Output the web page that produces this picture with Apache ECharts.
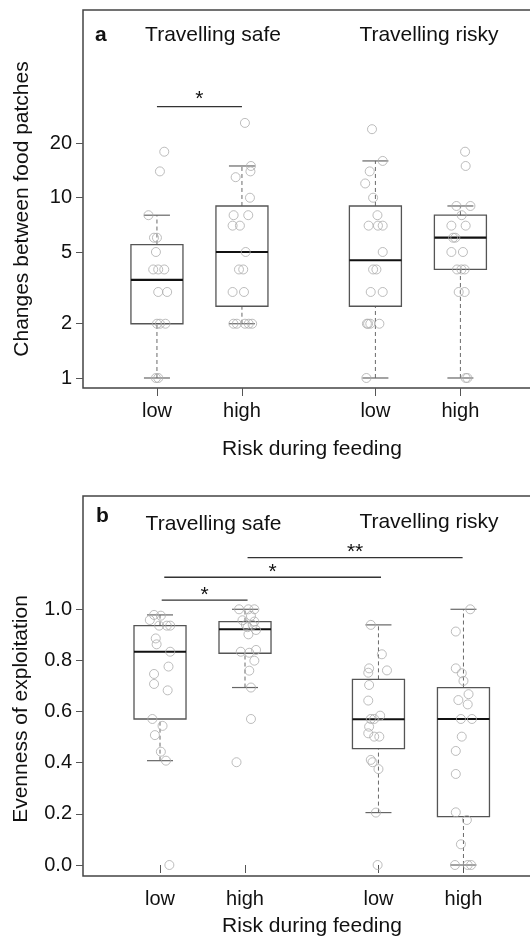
<!DOCTYPE html>
<html><head><meta charset="utf-8">
<script src="https://cdn.jsdelivr.net/npm/echarts@6/dist/echarts.min.js"></script>
<style>html,body{margin:0;padding:0;background:#fff}#c{width:530px;height:948px}</style>
</head><body><div id="c"></div>
<script>
// ---------- data ----------
const groupPos = [1, 2, 3.57, 4.57];
const groupLabels = ['low', 'high', 'low', 'high'];
const travelHeaders = ['Travelling safe', 'Travelling risky'];
const panelLetters = ['a', 'b'];
const xTitle = 'Risk during feeding';
const yTitleA = 'Changes between food patches';
const yTitleB = 'Evenness of exploitation';
const yTicksA = [1, 2, 5, 10, 20];
const yTicksB = [0, 0.2, 0.4, 0.6, 0.8, 1.0];

// box stats per group: [lower whisker, Q1, median, Q3, upper whisker]
const boxA = [
  [1, 2, 3.5, 5.5, 8],
  [2, 2.5, 5, 9, 15],
  [1, 2.5, 4.5, 9, 16],
  [1, 4, 6, 8, 9]
];
const boxB = [
  [0.408, 0.571, 0.834, 0.936, 0.978],
  [0.694, 0.828, 0.922, 0.952, 1.0],
  [0.205, 0.455, 0.570, 0.726, 0.939],
  [0.0, 0.189, 0.571, 0.694, 1.0]
];

// raw observations: [jitter, value]
const ptsA0 = [[0.086,18],[0.035,14],[-0.10,8],[-0.035,6],[0,6],[-0.012,5],[-0.044,4],[0.015,4],[0.086,4],[0.015,3],[0.12,3],[0,2],[0.035,2],[0.10,2],[-0.012,1],[0.015,1]];
const ptsA1 = [[0.035,26],[0.106,15],[0.10,14],[-0.074,13],[0.094,10],[-0.098,8],[0.074,8],[-0.11,7],[-0.024,7],[0.044,5],[-0.035,4],[0.015,4],[-0.11,3],[0.024,3],[-0.10,2],[-0.06,2],[0.035,2],[0.08,2],[0.12,2]];
const ptsA2 = [[-0.04,24],[0.086,16],[-0.067,14],[-0.12,12],[-0.027,10],[0.024,8],[-0.08,7],[0.03,7],[0.086,7],[0.086,5],[-0.027,4],[0.012,4],[-0.055,3],[0.086,3],[-0.1,2],[-0.086,2],[-0.06,2],[0.047,2],[-0.106,1]];
const ptsA3 = [[0.055,18],[0.062,15],[-0.047,9],[0.118,9],[0.015,8],[-0.106,7],[0.062,7],[-0.086,6],[-0.06,6],[-0.106,5],[0.03,5],[-0.04,4],[0.012,4],[0.05,4],[-0.02,3],[0.05,3],[0.062,1],[0.082,1]];

const ptsB0 = [[-0.07,0.978],[0.01,0.975],[-0.12,0.958],[-0.01,0.936],[0.08,0.936],[0.12,0.936],[-0.05,0.886],[-0.04,0.863],[0.12,0.834],[0.1,0.776],[-0.07,0.747],[-0.07,0.708],[0.09,0.683],[-0.09,0.571],[0.03,0.544],[-0.06,0.508],[0.01,0.443],[0.07,0.408],[0.11,0]];
const ptsB1 = [[-0.07,1.0],[0.04,1.0],[0.11,1.0],[0.07,0.974],[-0.03,0.957],[0.11,0.952],[0.01,0.939],[0.09,0.939],[0.03,0.93],[0.13,0.919],[0.04,0.902],[-0.05,0.834],[0.05,0.830],[0.13,0.841],[0.11,0.799],[0.05,0.76],[0.07,0.694],[0.07,0.571],[-0.1,0.402]];
const ptsB2 = [[-0.09,0.939],[0.04,0.824],[-0.11,0.769],[0.1,0.761],[-0.12,0.752],[-0.11,0.704],[-0.12,0.643],[0.02,0.584],[-0.09,0.571],[-0.05,0.571],[-0.11,0.541],[-0.12,0.515],[-0.05,0.502],[0.01,0.502],[-0.09,0.411],[-0.07,0.402],[0,0.375],[-0.03,0.205],[-0.01,0]];
const ptsB3 = [[0.08,1.0],[-0.09,0.913],[-0.09,0.769],[-0.02,0.750],[0,0.720],[0.06,0.668],[-0.06,0.645],[0.05,0.628],[-0.03,0.571],[0.1,0.571],[-0.02,0.502],[-0.09,0.446],[-0.09,0.356],[-0.09,0.206],[0.04,0.176],[-0.03,0.081],[-0.1,0],[0.05,0],[0.09,0]];

// significance brackets: [x from, x to, level, label]
const sigA = [[1, 2, 32, '*']];
const sigB = [[1.02, 2.03, 1.036, '*'], [1.05, 3.6, 1.125, '*'], [2.03, 4.56, 1.202, '**']];

// ---------- chart ----------
const FONT = '"Liberation Sans", Arial, Helvetica, sans-serif';
const BOX_HALF = 0.306, CAP_HALF = 0.153;
const chart = echarts.init(document.getElementById('c'), null, {renderer: 'canvas'});

function boxRender(params, api) {
  const x = api.value(0), lo = api.value(1), q1 = api.value(2), md = api.value(3), q3 = api.value(4), hi = api.value(5);
  const c = (a, b) => api.coord([a, b]);
  const tl = c(x - BOX_HALF, q3), br = c(x + BOX_HALF, q1);
  const ln = (p1, p2, style) => ({type: 'line', shape: {x1: p1[0], y1: p1[1], x2: p2[0], y2: p2[1]}, style: style});
  const dash = {stroke: '#6a6a6a', lineWidth: 1, lineDash: [4, 3]};
  const cap = {stroke: '#666', lineWidth: 1.2};
  return {type: 'group', children: [
    ln(c(x, q3), c(x, hi), dash),
    ln(c(x, lo), c(x, q1), dash),
    ln(c(x - CAP_HALF, hi), c(x + CAP_HALF, hi), cap),
    ln(c(x - CAP_HALF, lo), c(x + CAP_HALF, lo), cap),
    {type: 'rect', shape: {x: tl[0], y: tl[1], width: br[0] - tl[0], height: br[1] - tl[1]}, style: {fill: 'none', stroke: '#555', lineWidth: 1.3}},
    ln(c(x - BOX_HALF, md), c(x + BOX_HALF, md), {stroke: '#111', lineWidth: 2.2})
  ]};
}
function sigRender(offset) {
  return function (params, api) {
    const x1 = api.value(0), x2 = api.value(1), y = api.value(2);
    const p1 = api.coord([x1, y]), p2 = api.coord([x2, y]);
    return {type: 'group', children: [
      {type: 'line', shape: {x1: p1[0], y1: p1[1], x2: p2[0], y2: p2[1]}, style: {stroke: '#333', lineWidth: 1.4}},
      {type: 'text', style: {text: api.value(3), x: (p1[0] + p2[0]) / 2, y: p1[1] - offset, fill: '#111', fontSize: 21, fontFamily: FONT, align: 'center', verticalAlign: 'middle'}}
    ]};
  };
}
const boxData = b => b.map((s, i) => [groupPos[i]].concat(s));
const ptData = arr => [].concat(...arr.map((g, i) => g.map(p => [groupPos[i] + p[0], p[1]])));
const xLabelFmt = v => { const i = groupPos.findIndex(p => Math.abs(p - v) < 1e-6); return i >= 0 ? groupLabels[i] : ''; };

function xAxisDef(grid, min, max) {
  return {type: 'value', gridIndex: grid, min: min, max: max,
    axisLine: {show: false}, splitLine: {show: false},
    axisTick: {show: true, length: 8, customValues: groupPos, lineStyle: {color: '#555', width: 1}},
    axisLabel: {customValues: groupPos, formatter: xLabelFmt, margin: 13, fontSize: 20, color: '#111', fontFamily: FONT}};
}
const scatterStyle = {color: 'rgba(0,0,0,0)', borderColor: '#adadad', borderWidth: 1};
const txt = (text, x, y, extra) => ({type: 'text', x: x, y: y, silent: true, style: Object.assign({text: text, fill: '#111', fontSize: 21, fontFamily: FONT, align: 'center', verticalAlign: 'middle'}, extra || {})});

chart.setOption({
  animation: false,
  backgroundColor: '#fff',
  grid: [
    {left: 83, top: 10, width: 465, height: 378, show: true, borderColor: '#444', borderWidth: 1.5, backgroundColor: 'transparent', containLabel: false, outerBoundsMode: 'none'},
    {left: 83, top: 496, width: 465, height: 380, show: true, borderColor: '#444', borderWidth: 1.5, backgroundColor: 'transparent', containLabel: false, outerBoundsMode: 'none'}
  ],
  xAxis: [xAxisDef(0, 0.13, 0.13 + 465 / 85), xAxisDef(1, 0.094, 0.094 + 465 / 85)],
  yAxis: [
    {type: 'log', gridIndex: 0, min: 0.88, max: 110, axisLine: {show: false}, splitLine: {show: false}, minorTick: {show: false},
      axisTick: {show: true, length: 7, customValues: yTicksA, lineStyle: {color: '#555'}},
      axisLabel: {customValues: yTicksA, formatter: v => String(Math.round(v)), margin: 11, fontSize: 20, color: '#111', fontFamily: FONT}},
    {type: 'value', gridIndex: 1, min: -0.043, max: 1.443, axisLine: {show: false}, splitLine: {show: false},
      axisTick: {show: true, length: 7, customValues: yTicksB, lineStyle: {color: '#555'}},
      axisLabel: {customValues: yTicksB, formatter: v => v.toFixed(1), margin: 11, fontSize: 20, color: '#111', fontFamily: FONT}}
  ],
  series: [
    {type: 'custom', xAxisIndex: 0, yAxisIndex: 0, renderItem: boxRender, data: boxData(boxA), encode: {x: 0, y: [1, 2, 3, 4, 5]}, z: 2, silent: true},
    {type: 'scatter', xAxisIndex: 0, yAxisIndex: 0, data: ptData([ptsA0, ptsA1, ptsA2, ptsA3]), symbol: 'circle', symbolSize: 9, itemStyle: scatterStyle, z: 3, silent: true},
    {type: 'custom', xAxisIndex: 0, yAxisIndex: 0, renderItem: sigRender(7), data: sigA, encode: {x: [0, 1], y: 2}, z: 4, silent: true},
    {type: 'custom', xAxisIndex: 1, yAxisIndex: 1, renderItem: boxRender, data: boxData(boxB), encode: {x: 0, y: [1, 2, 3, 4, 5]}, z: 2, silent: true},
    {type: 'scatter', xAxisIndex: 1, yAxisIndex: 1, data: ptData([ptsB0, ptsB1, ptsB2, ptsB3]), symbol: 'circle', symbolSize: 9, itemStyle: scatterStyle, z: 3, silent: true},
    {type: 'custom', xAxisIndex: 1, yAxisIndex: 1, renderItem: sigRender(5), data: sigB, encode: {x: [0, 1], y: 2}, z: 4, silent: true}
  ],
  graphic: [
    txt(panelLetters[0], 95, 35, {align: 'left', fontWeight: 'bold', fontSize: 21}),
    txt(travelHeaders[0], 213, 35),
    txt(travelHeaders[1], 429, 35),
    txt(yTitleA, 22, 209, {}),
    txt(xTitle, 312, 449),
    txt(panelLetters[1], 96, 516, {align: 'left', fontWeight: 'bold', fontSize: 21}),
    txt(travelHeaders[0], 213.5, 524),
    txt(travelHeaders[1], 429, 522),
    txt(yTitleB, 21, 709, {}),
    txt(xTitle, 312, 926)
  ].map((g, i) => (i === 3 || i === 8) ? Object.assign(g, {rotation: Math.PI / 2}) : g)
});
</script>
</body></html>
